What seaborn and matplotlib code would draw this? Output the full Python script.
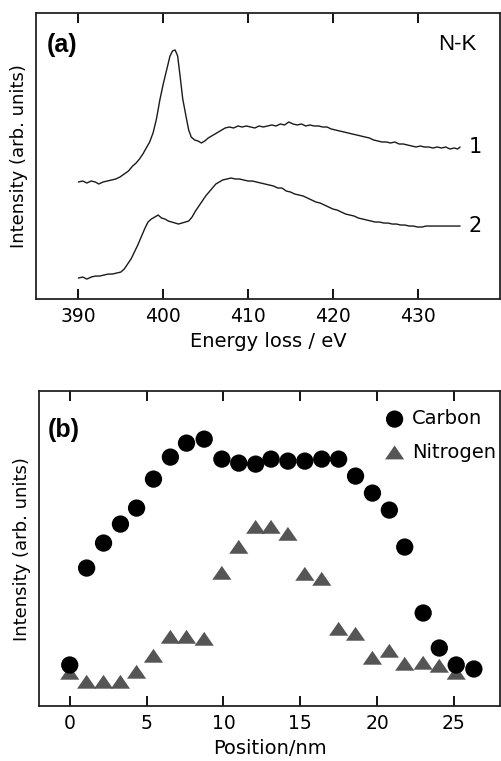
import numpy as np
import matplotlib
matplotlib.use("Agg")
import matplotlib.pyplot as plt
import seaborn as sns
import pandas as pd

sns.set_style("ticks")
plt.rcParams['font.family'] = ['DejaVu Sans']
plt.rcParams['text.color'] = 'black'
plt.rcParams['axes.labelcolor'] = 'black'
plt.rcParams['xtick.color'] = 'black'

# (a) N-K edge spectra, energy in eV, intensity in arbitrary units
energy_1 = [390.0, 390.5, 391.0, 391.5, 392.0, 392.4, 392.9, 393.4, 393.9, 394.4,
            394.9, 395.4, 395.9, 396.4, 396.8, 397.2, 397.6, 398.0, 398.4, 398.8,
            399.2, 399.6, 400.0, 400.4, 400.8, 401.1, 401.4, 401.7, 402.0, 402.3,
            402.7, 403.0, 403.3, 403.7, 404.1, 404.5, 404.9, 405.3, 405.7, 406.1,
            406.5, 406.9, 407.3, 407.8, 408.3, 408.8, 409.3, 409.8, 410.3, 410.8,
            411.3, 411.8, 412.3, 412.8, 413.3, 413.8, 414.3, 414.8, 415.3, 415.8,
            416.3, 416.8, 417.3, 417.8, 418.3, 418.8, 419.3, 419.8, 420.3, 420.8,
            421.3, 421.8, 422.3, 422.8, 423.3, 423.8, 424.3, 424.8, 425.3, 425.8,
            426.3, 426.8, 427.3, 427.8, 428.3, 428.8, 429.3, 429.8, 430.3, 430.8,
            431.3, 431.8, 432.3, 432.8, 433.3, 433.8, 434.3, 434.7, 435.0]
intensity_1 = [117, 118, 116, 118, 117, 115, 117, 118, 119, 120,
               122, 125, 128, 133, 136, 140, 145, 151, 157, 166,
               180, 199, 215, 229, 243, 248, 249, 243, 222, 200,
               182, 169, 162, 159, 158, 156, 158, 161, 163, 165,
               167, 169, 171, 172, 171, 173, 172, 173, 172, 171,
               173, 172, 173, 174, 173, 175, 174, 177, 175, 174,
               175, 173, 174, 173, 173, 172, 172, 170, 169, 168,
               167, 166, 165, 164, 163, 162, 161, 159, 158, 157,
               157, 156, 157, 155, 155, 154, 153, 152, 153, 152,
               152, 151, 152, 151, 152, 150, 151, 150, 152]

energy_2 = [390.0, 390.5, 391.0, 391.5, 392.0, 392.5, 393.0, 393.5, 394.0, 394.5,
            395.0, 395.4, 395.8, 396.2, 396.6, 397.0, 397.4, 397.8, 398.2, 398.6,
            399.0, 399.4, 399.8, 400.2, 400.6, 401.0, 401.4, 401.8, 402.2, 402.6,
            403.0, 403.4, 403.8, 404.2, 404.6, 405.0, 405.4, 405.8, 406.2, 406.6,
            407.0, 407.5, 408.0, 408.5, 409.0, 409.5, 410.0, 410.5, 411.0, 411.5,
            412.0, 412.5, 413.0, 413.5, 414.0, 414.5, 415.0, 415.5, 416.0, 416.5,
            417.0, 417.5, 418.0, 418.5, 419.0, 419.5, 420.0, 420.5, 421.0, 421.5,
            422.0, 422.5, 423.0, 423.5, 424.0, 424.5, 425.0, 425.5, 426.0, 426.5,
            427.0, 427.5, 428.0, 428.5, 429.0, 429.5, 430.0, 430.5, 431.0, 431.5,
            432.0, 432.5, 433.0, 433.5, 434.0, 434.5, 435.0]
intensity_2 = [21, 22, 20, 22, 23, 23, 24, 25, 25, 26,
               27, 30, 35, 40, 47, 54, 62, 70, 77, 80,
               82, 84, 81, 80, 78, 77, 76, 75, 76, 77,
               78, 82, 88, 93, 98, 103, 107, 111, 115, 117,
               119, 120, 121, 120, 120, 119, 118, 118, 117, 116,
               115, 114, 113, 111, 111, 108, 107, 105, 104, 103,
               101, 99, 97, 96, 94, 92, 90, 89, 87, 85,
               84, 83, 81, 80, 79, 78, 77, 77, 76, 76,
               75, 75, 74, 74, 73, 73, 72, 72, 73, 73,
               73, 73, 73, 73, 73, 73, 73]

# (b) line profile, position in nm
pos_carbon = [0.0, 1.1, 2.2, 3.3, 4.35, 5.45, 6.55, 7.6, 8.75, 9.9,
              11.0, 12.1, 13.1, 14.2, 15.3, 16.4, 17.5, 18.6, 19.7, 20.8,
              21.8, 23.0, 24.05, 25.15, 26.3]
carbon = [41, 138, 163, 182, 198, 227, 249, 263, 267, 247,
          243, 242, 247, 245, 245, 247, 247, 230, 213, 196,
          159, 93, 58, 41, 37]
pos_nitrogen = pos_carbon[:24]
nitrogen = [33, 24, 24, 24, 34, 50, 69, 69, 67, 133,
            159, 179, 179, 172, 132, 127, 77, 72, 48, 55,
            42, 43, 40, 33]

fig = plt.figure(figsize=(5.02, 7.61), dpi=100)
ax1 = fig.add_axes([0.0717, 0.607, 0.9243, 0.376])
ax2 = fig.add_axes([0.0777, 0.0723, 0.9183, 0.4137])

line_kw = dict(color="#1a1a1a", linewidth=1.0, estimator=None, sort=False)
sns.lineplot(x=energy_1, y=intensity_1, ax=ax1, **line_kw)
sns.lineplot(x=energy_2, y=intensity_2, ax=ax1, **line_kw)
ax1.set_xlim(385, 439.7)
ax1.set_ylim(0, 286)
ax1.set_xticks([390, 400, 410, 420, 430])
ax1.set_xlabel("Energy loss / eV", fontsize=14)
ax1.text(436.0, 152, "1", fontsize=15, ha="left", va="center")
ax1.text(436.0, 73, "2", fontsize=15, ha="left", va="center")
ax1.text(0.024, 0.888, "(a)", transform=ax1.transAxes, fontsize=18,
         fontweight="bold", family="Liberation Sans", va="center")
ax1.text(0.95, 0.888, "N-K", transform=ax1.transAxes, fontsize=16,
         family="Liberation Sans", ha="right", va="center")

tri = [(-1.0, -0.7), (1.0, -0.7), (0.0, 0.75)]
df_c = pd.DataFrame({"pos": pos_carbon, "val": carbon})
df_n = pd.DataFrame({"pos": pos_nitrogen, "val": nitrogen})
sns.scatterplot(data=df_n, x="pos", y="val", ax=ax2, marker=tri, s=190,
                color="#555555", edgecolor="none", label="Nitrogen", zorder=2)
sns.scatterplot(data=df_c, x="pos", y="val", ax=ax2, marker="o", s=155,
                color="black", edgecolor="none", label="Carbon", zorder=3)
ax2.set_xlim(-2, 28)
ax2.set_ylim(0, 315)
ax2.set_xticks([0, 5, 10, 15, 20, 25])
ax2.set_xlabel("Position/nm", fontsize=14)
ax2.text(0.018, 0.876, "(b)", transform=ax2.transAxes, fontsize=18,
         fontweight="bold", family="Liberation Sans", va="center")
handles, labels = ax2.get_legend_handles_labels()
ax2.legend(handles[::-1], labels[::-1], loc="upper right",
           bbox_to_anchor=(1.0, 0.955), frameon=False,
           fontsize=14, handletextpad=0.15, labelspacing=0.75,
           borderaxespad=0.1, borderpad=0.1, handlelength=1.5)

for ax in (ax1, ax2):
    ax.set_yticks([])
    ax.set_ylabel("Intensity (arb. units)", fontsize=13, labelpad=6)
    ax.tick_params(axis="x", direction="in", top=True, bottom=True,
                   length=7, width=1.3, labelsize=13.5, pad=6)
    for sp in ax.spines.values():
        sp.set_visible(True)
        sp.set_linewidth(1.3)
        sp.set_color("#222222")

fig.savefig("out.png", dpi=100)
